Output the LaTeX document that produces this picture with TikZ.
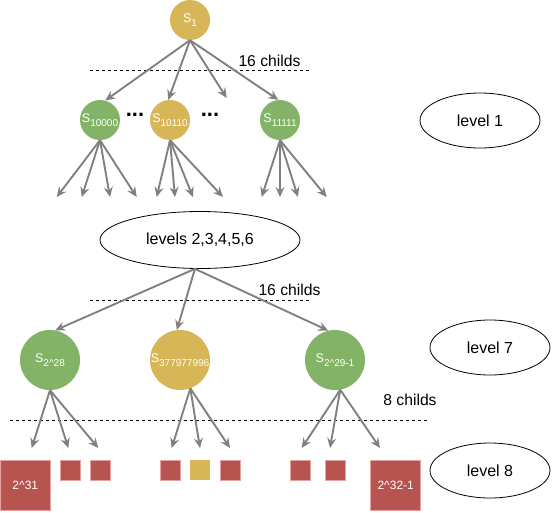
\documentclass[tikz,border=0pt]{standalone}
\usepackage{fontspec}
\setmainfont{Liberation Sans}
\usetikzlibrary{arrows.meta,shapes.geometric}
\definecolor{cy}{HTML}{D6B656}
\definecolor{cg}{HTML}{82B366}
\definecolor{cr}{HTML}{B85450}
\definecolor{crb}{HTML}{E3A3A3}
\definecolor{carr}{HTML}{808080}
\newcommand\mysub[1]{\raisebox{-0.32em}{\fontsize{10}{10}\selectfont #1}}
\begin{document}
\begin{tikzpicture}[x=1pt,y=-1pt,
  snode/.style={circle,inner sep=0,text=white,font=\fontsize{12.5}{14}\selectfont},
  small/.style={snode,minimum size=40pt},
  big/.style={snode,minimum size=60pt},
  box/.style={rectangle,inner sep=0,fill=cr,draw=crb,line width=0.8pt,text=white,font=\fontsize{12}{14}\selectfont},
  sbox/.style={box,minimum size=20pt},
  bbox/.style={box,minimum size=50pt},
  lvl/.style={ellipse,draw=black,line width=0.8pt,inner sep=0,font=\fontsize{16}{18}\selectfont},
  lbl/.style={inner sep=0,font=\fontsize{15.7}{18}\selectfont},
  arr/.style={draw=carr,line width=1.9pt,-{Stealth[length=10pt,width=9pt,inset=3.5pt]}},
  dashln/.style={draw=black,line width=0.7pt,dash pattern=on 3pt off 3pt},
  dts/.style={inner sep=0,font=\fontsize{22}{22}\selectfont\bfseries}
]
\useasboundingbox (0,0) rectangle (552,512);

% level 0/1
\node[small,fill=cy] (s1) at (190,20) {S\mysub{1}};
\node[small,fill=cg] (a) at (100,120) {S\mysub{10000}};
\node[small,fill=cy] (b) at (170,120) {S\mysub{10110}};
\node[small,fill=cg] (c) at (280,120) {S\mysub{11111}};
\node[dts] (dt1) at (135,115) {...};
\node[dts] (dt2) at (210,115) {...};
\coordinate (x3) at (226.7,98);
\coordinate (d1a) at (90,70);
\coordinate (d1b) at (310,70);
\draw[dashln] (d1a) -- (d1b);
\node[lbl] (t1) at (269.5,61) {16 childs};
\draw[arr] (s1.south) -- (a.75);
\draw[arr] (s1.south) -- (b.95);
\draw[arr] (s1.south) -- (x3);
\draw[arr] (s1.south) -- (c.95);

\foreach \n/\x in {a1/56.7,a2/81.7,a3/110,a4/136.7,b1/156.7,b2/175,b3/193,b4/223,c1/261.7,c2/280,c3/298,c4/326.7}
  \coordinate (\n) at (\x,197);
\foreach \p/\n in {a/a1,a/a2,a/a3,a/a4,b/b1,b/b2,b/b3,b/b4,c/c1,c/c2,c/c3,c/c4}
  \draw[arr] (\p.south) -- (\n);

\node[lvl,minimum width=120pt,minimum height=55pt] (l1) at (480,120.5) {level 1};

% middle levels
\node[lvl,minimum width=200pt,minimum height=57pt] (lv) at (200,240) {levels 2,3,4,5,6};

% level 7
\node[big,fill=cg] (d) at (50,360) {S\mysub{2\textasciicircum 28}};
\node[big,fill=cy] (e) at (180,360) {S\mysub{377977996}};
\node[big,fill=cg] (f) at (335,360) {S\mysub{2\textasciicircum 29-1}};
\coordinate (d2a) at (90,300);
\coordinate (d2b) at (310,300);
\draw[dashln] (d2a) -- (d2b);
\node[lbl] (t2) at (289.5,290) {16 childs};
\draw[arr] (lv.-100) -- (d.80);
\draw[arr] (lv.-100) -- (e.96);
\draw[arr] (lv.-100) -- (f.103);
\node[lvl,minimum width=120pt,minimum height=55pt] (l7) at (490,347.5) {level 7};

% level 8
\coordinate (d3a) at (10,420);
\coordinate (d3b) at (428,420);
\draw[dashln] (d3a) -- (d3b);
\node[lbl] (t3) at (410,400) {8 childs};
\foreach \n/\x in {e1/31.7,e2/68.3,e3/98.3,f1/171.7,f2/200,f3/230,g1/301.7,g2/330,g3/380}
  \coordinate (\n) at (\x,448);
\foreach \p/\n in {d.south/e1,d.south/e2,d.south/e3,e.-70/f1,e.-70/f2,e.-70/f3,f.-80/g1,f.-80/g2,f.-80/g3}
  \draw[arr] (\p) -- (\n);

\node[bbox] (q1) at (25.3,485.3) {2\textasciicircum 31};
\node[sbox] (q2) at (70.3,470.3) {};
\node[sbox] (q3) at (100.3,470.3) {};
\node[sbox] (q4) at (170.3,470.3) {};
\node[sbox,fill=cy,draw=none] (q5) at (200.3,470.3) {};
\node[sbox] (q6) at (230.3,470.3) {};
\node[sbox] (q7) at (300.3,470.3) {};
\node[sbox] (q8) at (335.3,470.3) {};
\node[bbox] (q9) at (395.7,485.3) {2\textasciicircum 32-1};
\node[lvl,minimum width=120pt,minimum height=55pt] (l8) at (490,470.5) {level 8};
\end{tikzpicture}
\end{document}
